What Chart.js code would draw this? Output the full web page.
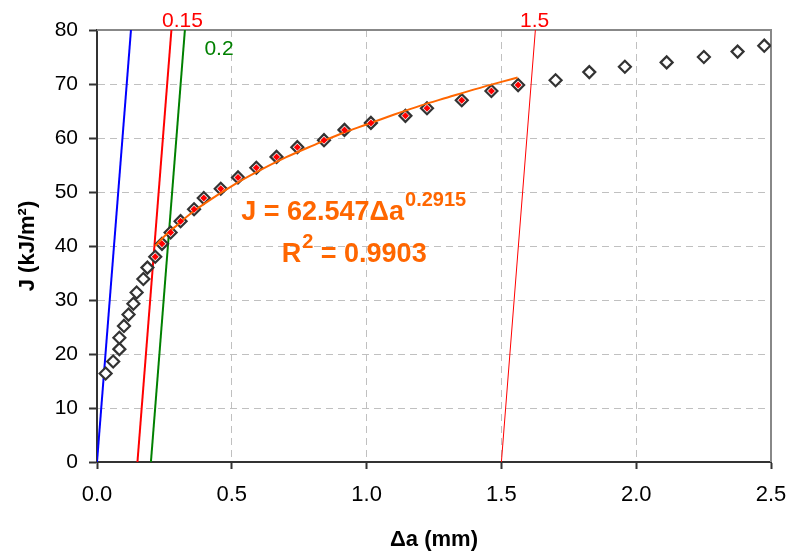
<!DOCTYPE html>
<html>
<head>
<meta charset="utf-8">
<script src="https://cdn.jsdelivr.net/npm/chart.js@4/dist/chart.umd.min.js"></script>
<style>
  html, body { margin: 0; padding: 0; background: #fff; }
  #wrap { width: 791px; height: 554px; }
</style>
</head>
<body>
<div id="wrap"><canvas id="jrChart" width="791" height="554"></canvas></div>
<script>
// Test data
// **************************************
const crackExt = [0.032, 0.060, 0.083, 0.083, 0.100, 0.117, 0.135, 0.147, 0.172, 0.187,
  0.216, 0.241, 0.273, 0.310, 0.360, 0.396, 0.459, 0.523, 0.591, 0.666, 0.743, 0.842,
  0.918, 1.016, 1.144, 1.224, 1.353, 1.463, 1.562, 1.701, 1.826, 1.958, 2.113, 2.251,
  2.376, 2.475];
const jValues = [16.4, 18.6, 20.9, 23.0, 25.2, 27.3, 29.3, 31.4, 33.9, 36.0,
  38.0, 40.4, 42.5, 44.6, 46.8, 48.9, 50.6, 52.7, 54.5, 56.5, 58.3, 59.6,
  61.5, 62.8, 64.1, 65.5, 67.0, 68.7, 69.8, 70.7, 72.2, 73.2, 74.0, 75.0,
  76.0, 77.1];
// points used for the power fit (the red-dot ones)
const fitFirst = 10;
const fitLast = 28;

// Power-law trend line as drawn
const fitX = [0.216, 0.25, 0.30, 0.35, 0.40, 0.50, 0.60, 0.70, 0.80, 0.90, 1.00, 1.10, 1.20, 1.30, 1.40, 1.50, 1.56];
const fitJ = [40.0, 41.8, 44.0, 46.1, 47.9, 51.1, 53.9, 56.4, 58.6, 60.7, 62.5, 64.3, 66.0, 67.5, 69.0, 70.4, 71.2];

// Blunting / offset lines: start and end
const bluntX = [0, 0.126];
const off015X = [0.15, 0.276];
const off02X = [0.2, 0.326];
const off15X = [1.5, 1.626];
const lineJ = [0, 80];

// Axis ticks
const xTicks = [0, 0.5, 1.0, 1.5, 2.0, 2.5];
const yTicks = [0, 10, 20, 30, 40, 50, 60, 70, 80];

const FONT = "'Liberation Sans', Arial, sans-serif";
const ORANGE = '#FF6600';

function pts(xs, ys) {
  return xs.map((x, i) => ({ x: x, y: ys[i] }));
}

const allPts = pts(crackExt, jValues);
const fitPts = allPts.slice(fitFirst, fitLast + 1);

// Labels and equation text
// **************************************
const textPlugin = {
  id: 'jrText',
  beforeDatasetsDraw(chart) {
    // grey frame on top and right
    const a = chart.chartArea;
    const ctx = chart.ctx;
    ctx.save();
    ctx.strokeStyle = '#888888';
    ctx.lineWidth = 2;
    ctx.beginPath();
    ctx.moveTo(a.left, a.top);
    ctx.lineTo(a.right, a.top);
    ctx.lineTo(a.right, a.bottom);
    ctx.stroke();
    ctx.restore();
  },
  afterDatasetsDraw(chart) {
    const ctx = chart.ctx;
    const xs = chart.scales.x;
    const ys = chart.scales.y;
    ctx.save();
    ctx.textBaseline = 'alphabetic';

    // offset line tags
    ctx.font = '21px ' + FONT;
    ctx.textAlign = 'center';
    ctx.fillStyle = '#FF0000';
    ctx.fillText('0.15', xs.getPixelForValue(0.317), ys.getPixelForValue(80.6));
    ctx.fillText('1.5', xs.getPixelForValue(1.623), ys.getPixelForValue(80.6));
    ctx.fillStyle = '#008000';
    ctx.fillText('0.2', xs.getPixelForValue(0.4525), ys.getPixelForValue(75.4));

    // fit equation
    ctx.textAlign = 'left';
    ctx.fillStyle = ORANGE;
    let px = xs.getPixelForValue(0.535);
    let py = ys.getPixelForValue(44.8);
    ctx.font = 'bold 27px ' + FONT;
    const main = 'J = 62.547\u0394a';
    ctx.fillText(main, px, py);
    px += ctx.measureText(main).width + 1;
    ctx.font = 'bold 20px ' + FONT;
    ctx.fillText('0.2915', px, py - 14);

    px = xs.getPixelForValue(0.685);
    py = ys.getPixelForValue(37.0);
    ctx.font = 'bold 27px ' + FONT;
    ctx.fillText('R', px, py);
    px += ctx.measureText('R').width + 1;
    ctx.font = 'bold 20px ' + FONT;
    ctx.fillText('2', px, py - 14);
    px += ctx.measureText('2').width;
    ctx.font = 'bold 27px ' + FONT;
    ctx.fillText(' = 0.9903', px, py);
    ctx.restore();
  },
};

// Config
// **************************************
const config = {
  type: 'scatter',
  data: {
    datasets: [
      {
        label: 'fit points',
        data: fitPts,
        pointStyle: 'rectRot',
        pointRadius: 3.5,
        pointBackgroundColor: '#FF0000',
        pointBorderWidth: 0,
        showLine: false,
      },
      {
        label: 'power fit',
        data: pts(fitX, fitJ),
        showLine: true,
        borderColor: ORANGE,
        borderWidth: 2,
        pointRadius: 0,
        cubicInterpolationMode: 'monotone',
      },
      {
        label: 'J-R data',
        data: allPts,
        pointStyle: 'rectRot',
        pointRadius: 6,
        pointBorderWidth: 2.2,
        pointBorderColor: '#333333',
        pointBackgroundColor: '#FFFFFF',
        showLine: false,
      },
      {
        label: 'blunting',
        data: pts(bluntX, lineJ),
        showLine: true,
        borderColor: '#0000FF',
        borderWidth: 2,
        pointRadius: 0,
      },
      {
        label: '0.15',
        data: pts(off015X, lineJ),
        showLine: true,
        borderColor: '#FF0000',
        borderWidth: 2,
        pointRadius: 0,
      },
      {
        label: '0.2',
        data: pts(off02X, lineJ),
        showLine: true,
        borderColor: '#008000',
        borderWidth: 2,
        pointRadius: 0,
      },
      {
        label: '1.5',
        data: pts(off15X, lineJ),
        showLine: true,
        borderColor: '#FF0000',
        borderWidth: 1,
        pointRadius: 0,
      },
    ],
  },
  options: {
    responsive: false,
    animation: false,
    events: [],
    layout: {
      padding: { top: 30, right: 20, left: 0, bottom: 0 },
    },
    plugins: {
      legend: { display: false },
      tooltip: { enabled: false },
    },
    scales: {
      x: {
        type: 'linear',
        min: 0,
        max: 2.5,
        afterFit: (scale) => {
          scale.height = 92;
          scale.paddingRight = 0;
          scale.paddingLeft = 0;
        },
        afterBuildTicks: (scale) => { scale.ticks = xTicks.map((v) => ({ value: v })); },
        grid: {
          color: '#C0C0C0',
          lineWidth: 1,
          tickLength: 7,
          tickColor: '#333333',
          tickWidth: 2,
        },
        border: { color: '#333333', width: 2, dash: [7, 5] },
        ticks: {
          color: '#000000',
          font: { family: FONT, size: 22 },
          padding: 13,
          maxRotation: 0,
          callback: (value) => value.toFixed(1),
        },
        title: {
          display: true,
          text: '\u0394a (mm)',
          color: '#000000',
          font: { family: FONT, size: 22, weight: 'bold' },
          padding: { top: 0, bottom: 1 },
        },
      },
      y: {
        type: 'linear',
        min: 0,
        max: 80,
        afterFit: (scale) => {
          scale.width = 97;
          scale.paddingTop = 0;
          scale.paddingBottom = 0;
        },
        afterBuildTicks: (scale) => { scale.ticks = yTicks.map((v) => ({ value: v })); },
        grid: {
          color: '#C0C0C0',
          lineWidth: 1,
          tickLength: 8,
          tickColor: '#333333',
          tickWidth: 2,
        },
        border: { color: '#333333', width: 2, dash: [7, 5] },
        ticks: {
          color: '#000000',
          font: { family: FONT, size: 21 },
          padding: 11,
        },
        title: {
          display: true,
          text: 'J (kJ/m\u00B2)',
          color: '#000000',
          font: { family: FONT, size: 22, weight: 'bold' },
          padding: { top: 15, bottom: 0 },
        },
      },
    },
  },
  plugins: [textPlugin],
};

// Render
new Chart(document.getElementById('jrChart'), config);
</script>
</body>
</html>
